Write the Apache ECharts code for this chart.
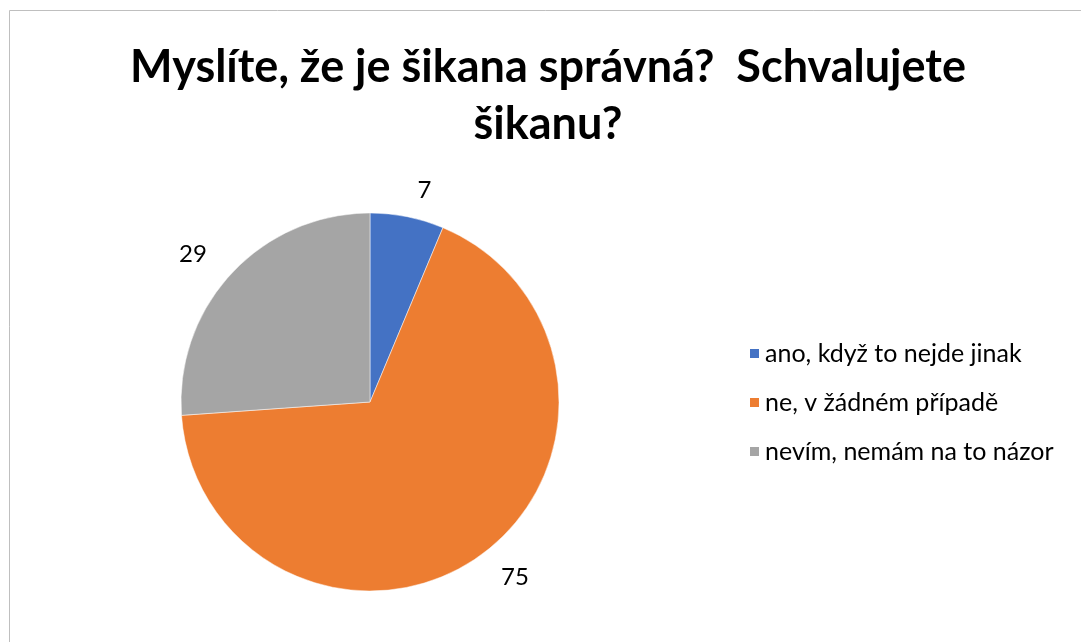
<!DOCTYPE html>
<html><head><meta charset="utf-8">
<script src="https://cdn.jsdelivr.net/npm/echarts@6/dist/echarts.min.js"></script>
<style>html,body{margin:0;padding:0;background:#fff}#c{width:1081px;height:642px}</style>
</head><body><div id="c"></div>
<script>
const titleText = 'Myslíte, že je šikana správná?  Schvalujete\nšikanu?';
const categories = ['ano, když to nejde jinak', 'ne, v žádném případě', 'nevím, nemám na to názor'];
const values = [7, 75, 29];
const colors = ['#4472C4', '#ED7D31', '#A5A5A5'];

const chart = echarts.init(document.getElementById('c'));
chart.setOption({
  backgroundColor: '#fff',
  animation: false,
  color: colors,
  graphic: [{type:'rect', shape:{x:9.5,y:10.5,width:1100,height:700}, style:{fill:null, stroke:'#BFBFBF', lineWidth:1}, silent:true}],
  title: {
    text: titleText, left: 543, textAlign: 'center', top: 34,
    textStyle: {fontFamily: 'Lato', fontWeight: 'bold', fontSize: 45, lineHeight: 57, color: '#000'}
  },
  legend: {
    orient: 'vertical', left: 743, top: 336, itemWidth: 11, itemHeight: 11, itemGap: 24,
    icon: 'rect',
    textStyle: {fontFamily: 'Lato', fontSize: 25, lineHeight: 25, color: '#000'},
    data: categories
  },
  series: [{
    type: 'pie', center: [370, 402], radius: 189, startAngle: 90, clockwise: true,
    itemStyle: {borderColor: '#fff', borderWidth: 0.5},
    label: {show: true, position: 'outside', formatter: '{c}', fontFamily: 'Lato', fontSize: 24, color: '#000'},
    labelLine: {show: false, length: 27, length2: 0},
    data: categories.map((n, i) => ({name: n, value: values[i]}))
  }]
});
</script></body></html>
